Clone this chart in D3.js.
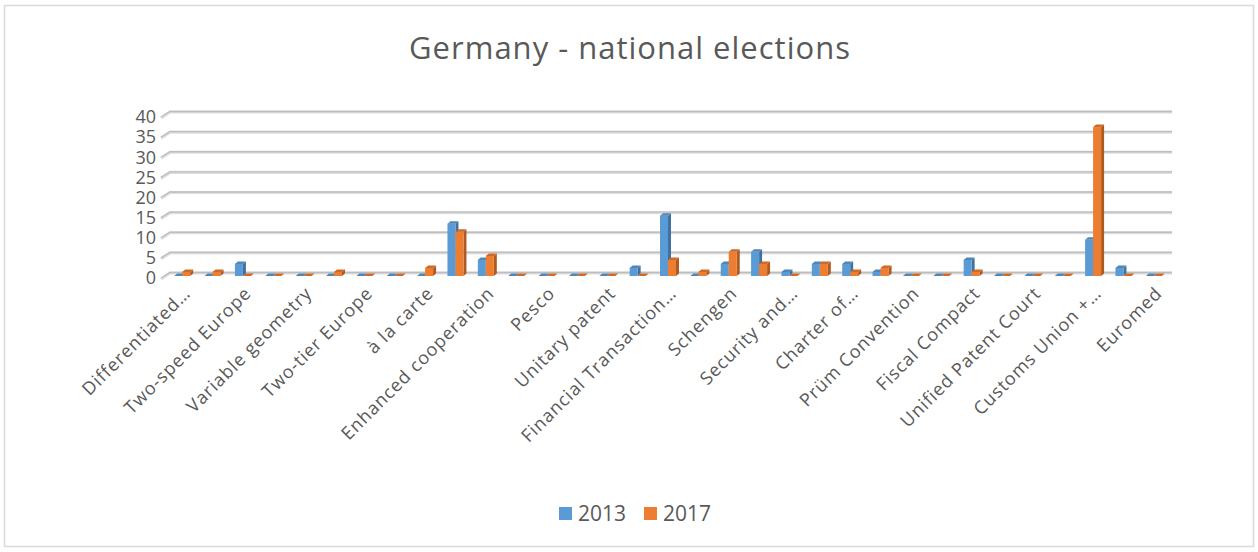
<!DOCTYPE html>
<html>
<head>
<meta charset="utf-8">
<script src="https://cdn.jsdelivr.net/npm/d3@7"></script>
<style>
  body { margin: 0; background: #fff; }
  text { font-family: "Open Sans", sans-serif; fill: #595959; }
</style>
</head>
<body>
<script>
// category labels (Excel only shows every other one)
const categories = [
  "Differentiated…", "", "Two-speed Europe", "", "Variable geometry", "",
  "Two-tier Europe", "", "à la carte", "", "Enhanced cooperation", "",
  "Pesco", "", "Unitary patent", "", "Financial Transaction…", "",
  "Schengen", "", "Security and…", "", "Charter of…", "",
  "Prüm Convention", "", "Fiscal Compact", "", "Unified Patent Court", "",
  "Customs Union +…", "", "Euromed"
];
const values2013 = [0, 0, 3, 0, 0, 0, 0, 0, 0, 13, 4, 0, 0, 0, 0, 2, 15, 0, 3, 6, 1, 3, 3, 1, 0, 0, 4, 0, 0, 0, 9, 2, 0];
const values2017 = [1, 1, 0, 0, 0, 1, 0, 0, 2, 11, 5, 0, 0, 0, 0, 0, 4, 1, 6, 3, 0, 3, 1, 2, 0, 0, 1, 0, 0, 0, 37, 0, 0];
const seriesNames = ["2013", "2017"];
const yTicks = [0, 5, 10, 15, 20, 25, 30, 35, 40];

const colors = {
  "2013": { front: "#5b9bd5", side: "#3f72a0", top: "#4f86b8" },
  "2017": { front: "#ed7d31", side: "#ae5a21", top: "#cf6a26" }
};

const W = 1258, H = 552;
const svg = d3.select("body").append("svg").attr("width", W).attr("height", H);

// chart border
svg.append("rect")
  .attr("x", 4.5).attr("y", 5.5).attr("width", 1249).attr("height", 541)
  .attr("fill", "#fff").attr("stroke", "#d9d9d9").attr("stroke-width", 1.5);

svg.append("text")
  .attr("x", 630).attr("y", 59)
  .attr("text-anchor", "middle")
  .style("font-size", "31px")
  .style("letter-spacing", "1px")
  .text("Germany - national elections");

// back wall scale and front (bars) scale
const yBack = d3.scaleLinear().domain([0, 40]).range([273, 112]);
const yFront = d3.scaleLinear().domain([0, 40]).range([276, 115]);
const x = d3.scaleBand().domain(d3.range(categories.length)).range([167, 1169]);

// gridlines with the small 3D corner at the left
const grid = svg.append("g");
yTicks.forEach(t => {
  const yy = yBack(t);
  grid.append("path")
    .attr("d", `M161,${yy + 6}L170,${yy}L1172,${yy}`)
    .attr("fill", "none").attr("stroke", "#dedede").attr("stroke-width", 3.2);
  grid.append("path")
    .attr("d", `M161,${yy + 5}L170,${yy - 0.5}L1172,${yy - 0.5}`)
    .attr("fill", "none").attr("stroke", "#bdbdbd").attr("stroke-width", 1.3);
});

// y axis labels
const yAxis = svg.append("g")
  .attr("transform", "translate(156,5)")
  .call(d3.axisLeft(yBack).tickValues(yTicks).tickSize(0).tickPadding(0));
yAxis.select(".domain").remove();
yAxis.selectAll("text").style("font-size", "18px").attr("fill", "#595959");

// bars
const barW = 8, dx = 3, dy = 2.5;
const bars = svg.append("g");
categories.forEach((c, i) => {
  const cx = x(i) + x.bandwidth() / 2;
  [values2013[i], values2017[i]].forEach((v, s) => {
    const col = colors[seriesNames[s]];
    const x0 = cx - barW + s * barW, x1 = x0 + barW;
    const yt = yFront(v), yb = yFront(0);
    const g = bars.append("g");
    // side
    g.append("path")
      .attr("d", `M${x1},${yt}L${x1 + dx},${yt - dy}L${x1 + dx},${yb - dy}L${x1},${yb}Z`)
      .attr("fill", col.side);
    // front
    g.append("rect").attr("x", x0).attr("y", yt).attr("width", barW).attr("height", yb - yt)
      .attr("fill", col.front);
    // top
    g.append("path")
      .attr("d", `M${x0},${yt}L${x0 + dx},${yt - dy}L${x1 + dx},${yt - dy}L${x1},${yt}Z`)
      .attr("fill", col.top);
  });
});

// x axis labels, rotated
const xAxis = svg.append("g")
  .attr("transform", "translate(5,290)")
  .call(d3.axisBottom(x)
    .tickValues(d3.range(0, categories.length, 2))
    .tickFormat(i => categories[i])
    .tickSize(0).tickPadding(0));
xAxis.select(".domain").remove();
xAxis.selectAll("text")
  .style("font-size", "18px")
  .style("letter-spacing", "0.9px")
  .attr("fill", "#595959")
  .attr("text-anchor", "end")
  .attr("dy", "0.35em")
  .attr("transform", "rotate(-45)");

// legend
const legend = svg.append("g").attr("transform", "translate(559,507)");
seriesNames.forEach((n, k) => {
  const lg = legend.append("g").attr("transform", `translate(${k * 85},0)`);
  lg.append("rect").attr("width", 13).attr("height", 13).attr("fill", colors[n].front);
  lg.append("text").attr("x", 19).attr("y", 13.5).style("font-size", "21px").text(n);
});
</script>
</body>
</html>
